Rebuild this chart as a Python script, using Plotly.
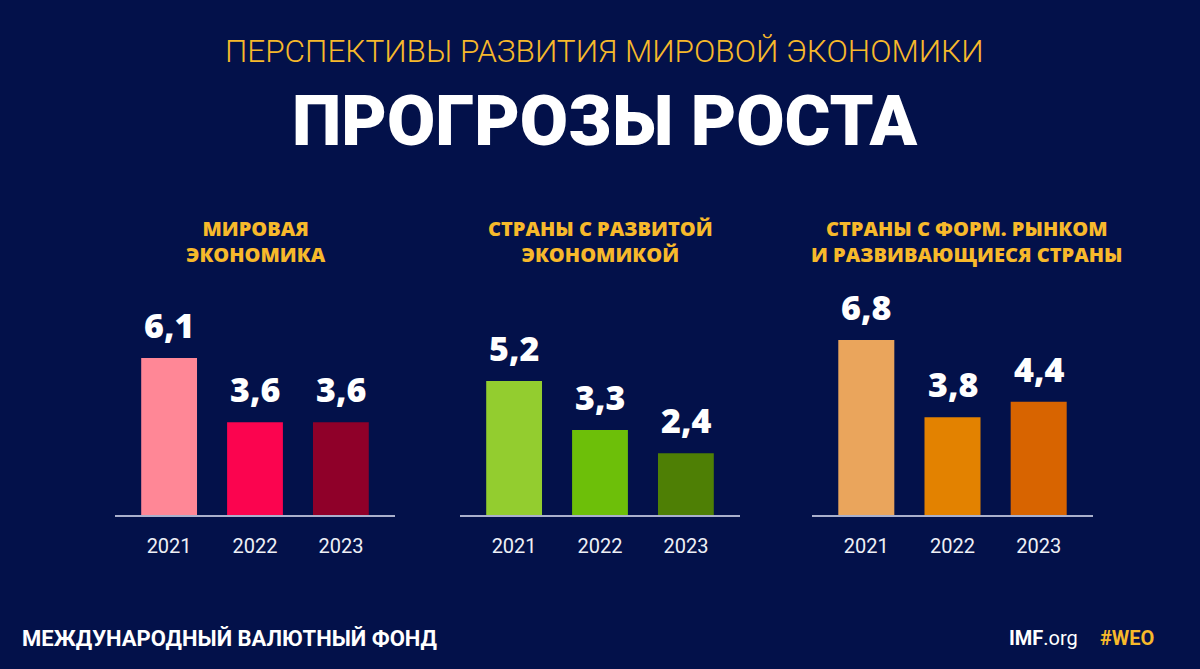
import plotly.graph_objects as go

# ---- data ----
years = ["2021", "2022", "2023"]
world_values = [6.1, 3.6, 3.6]
advanced_values = [5.2, 3.3, 2.4]
emerging_values = [6.8, 3.8, 4.4]

panel_titles = [
    "МИРОВАЯ<br>ЭКОНОМИКА",
    "СТРАНЫ С РАЗВИТОЙ<br>ЭКОНОМИКОЙ",
    "СТРАНЫ С ФОРМ. РЫНКОМ<br>И РАЗВИВАЮЩИЕСЯ СТРАНЫ",
]
world_colors = ["#ff8796", "#fb044f", "#8f0029"]
advanced_colors = ["#93cd2f", "#6dbf09", "#4e7f05"]
emerging_colors = ["#eaa55c", "#e38200", "#d86400"]

supertitle = "ПЕРСПЕКТИВЫ РАЗВИТИЯ МИРОВОЙ ЭКОНОМИКИ"
main_title = "ПРОГРОЗЫ РОСТА"
footer_left = "МЕЖДУНАРОДНЫЙ ВАЛЮТНЫЙ ФОНД"

# ---- layout constants ----
W, H = 1200, 669
BG = "#03114a"
GOLD = "#f7b92b"
FONT_BOLD = "Open Sans"
x_domains = [[115 / W, 395 / W], [460 / W, 740 / W], [812 / W, 1093 / W]]
title_x = [256 / W, 600 / W, 966 / W]
y_domain = [(H - 515) / H, (H - 309) / H]

series = [world_values, advanced_values, emerging_values]
colors = [world_colors, advanced_colors, emerging_colors]

fig = go.Figure()
annotations = []
for i, (vals, cols) in enumerate(zip(series, colors)):
    sfx = "" if i == 0 else str(i + 1)
    fig.add_trace(go.Bar(
        x=years, y=vals, marker=dict(color=cols, line=dict(width=0)),
        width=0.65, xaxis="x" + sfx, yaxis="y" + sfx, showlegend=False,
        hoverinfo="skip",
    ))
    for j, v in enumerate(vals):
        annotations.append(dict(
            x=j, y=v, xref="x" + sfx, yref="y" + sfx,
            text=f"{v:.1f}".replace(".", ","),
            showarrow=False, yanchor="bottom", yshift=8,
            font=dict(family=FONT_BOLD, size=34, color="white", weight=800),
        ))
    annotations.append(dict(
        x=title_x[i], y=(H - 241) / H, xref="paper", yref="paper",
        text=panel_titles[i], showarrow=False, xanchor="center", yanchor="middle",
        font=dict(family=FONT_BOLD, size=20, color=GOLD, weight=800),
    ))

annotations += [
    dict(x=604 / W, y=(H - 52) / H, xref="paper", yref="paper", text=supertitle,
         showarrow=False, xanchor="center", yanchor="middle",
         font=dict(family="Roboto", size=31.5, color=GOLD, weight=300)),
    dict(x=605 / W, y=(H - 121) / H, xref="paper", yref="paper", text=main_title,
         showarrow=False, xanchor="center", yanchor="middle",
         font=dict(family="Roboto", size=70, color="white", weight=900)),
    dict(x=20 / W, y=(H - 638) / H, xref="paper", yref="paper", text=footer_left,
         showarrow=False, xanchor="left", yanchor="middle",
         font=dict(family="Roboto", size=22, color="white", weight=700)),
    dict(x=1080 / W, y=(H - 638) / H, xref="paper", yref="paper",
         text="<b>IMF</b>.org", showarrow=False, xanchor="right", yanchor="middle",
         font=dict(family="Roboto", size=20, color="white")),
    dict(x=1156 / W, y=(H - 638) / H, xref="paper", yref="paper",
         text="<b>#WEO</b>", showarrow=False, xanchor="right", yanchor="middle",
         font=dict(family="Roboto", size=20, color=GOLD)),
]

layout = dict(
    width=W, height=H, margin=dict(l=0, r=0, t=0, b=0),
    paper_bgcolor=BG, plot_bgcolor="rgba(0,0,0,0)",
    annotations=annotations, bargap=0.35, showlegend=False,
)
for i in range(3):
    sfx = "" if i == 0 else str(i + 1)
    layout["xaxis" + sfx] = dict(
        domain=x_domains[i], anchor="y" + sfx, type="category",
        range=[-0.63, 2.63], showline=True, linecolor="#aab0cc", linewidth=2,
        showgrid=False, zeroline=False, ticks="", ticklabelstandoff=12,
        tickfont=dict(family="Roboto", size=20, color="#eef0f6"), fixedrange=True,
    )
    layout["yaxis" + sfx] = dict(
        domain=y_domain, anchor="x" + sfx, range=[0, 8], visible=False, fixedrange=True,
    )
fig.update_layout(**layout)
fig.write_html(
    "out.html",
    config={"displayModeBar": False},
    post_script="document.body.style.margin='0';",
)
